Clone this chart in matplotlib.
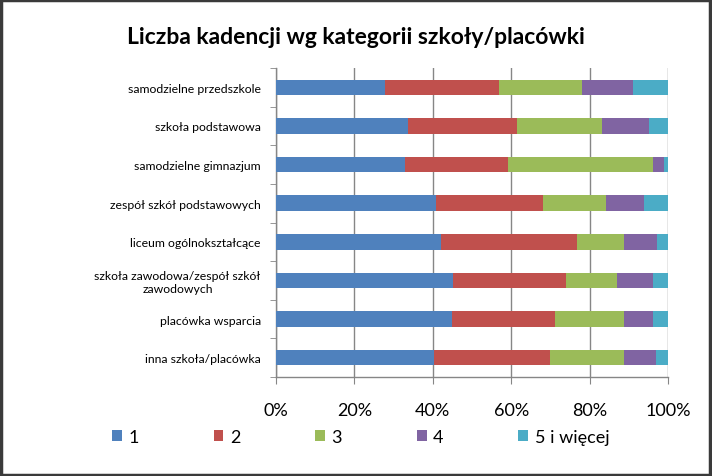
import matplotlib
matplotlib.use("Agg")
import matplotlib.pyplot as plt
from matplotlib.patches import Rectangle
import numpy as np

plt.rcParams['font.family'] = ['Lato', 'DejaVu Sans']

categories = [
    "samodzielne przedszkole",
    "szkoła podstawowa",
    "samodzielne gimnazjum",
    "zespół szkół podstawowych",
    "liceum ogólnokształcące",
    "szkoła zawodowa/zespół szkół\nzawodowych",
    "placówka wsparcia",
    "inna szkoła/placówka",
]
series_names = ["1", "2", "3", "4", "5 i więcej"]
s1 = [27.9, 33.7, 32.8, 40.9, 42.0, 45.1, 45.0, 40.4]
s2 = [29.1, 27.7, 26.5, 27.1, 34.9, 28.8, 26.1, 29.4]
s3 = [21.0, 21.7, 36.8, 16.1, 12.0, 13.1, 17.8, 19.1]
s4 = [13.0, 12.0, 2.8, 9.9, 8.2, 9.1, 7.2, 8.0]
s5 = [9.0, 4.9, 1.1, 6.0, 2.9, 3.9, 3.9, 3.1]
x_ticks = [0, 20, 40, 60, 80, 100]
x_tick_labels = ["0%", "20%", "40%", "60%", "80%", "100%"]

colors = ["#4F81BD", "#C0504D", "#9BBB59", "#8064A2", "#4BACC6"]

fig = plt.figure(figsize=(7.12, 4.77), dpi=100)
ax = fig.add_axes([276/712, 1-378/477, (668-276)/712, (378-69)/477])

series = [s1, s2, s3, s4, s5]
data = np.array(series, dtype=float)
data = data / data.sum(axis=0) * 100
y = np.arange(len(categories))
left = np.zeros(len(categories))
for vals, name, c in zip(data, series_names, colors):
    ax.barh(y, vals, left=left, height=0.4, color=c, label=name, zorder=3)
    left += vals

ax.set_xlim(0, 100)
ax.set_ylim(len(categories) - 0.5, -0.5)
ax.set_xticks(x_ticks)
ax.set_xticklabels(x_tick_labels, fontsize=13)
ax.set_yticks(y)
ax.set_yticklabels(categories, fontsize=8.8, ha='right', multialignment='center')
ax.set_yticks(np.arange(len(categories) + 1) - 0.5, minor=True)

grid_c = "#868686"
ax.grid(axis='x', color=grid_c, linewidth=1, zorder=0)
for side in ['top', 'right']:
    ax.spines[side].set_visible(False)
for side in ['left', 'bottom']:
    ax.spines[side].set_color(grid_c)
    ax.spines[side].set_linewidth(1)
ax.tick_params(axis='x', which='major', length=5, color=grid_c, pad=13)
ax.tick_params(axis='y', which='major', length=0, pad=11)
ax.tick_params(axis='y', which='minor', length=4, color=grid_c)

fig.text(356/712, 1-37/477, "Liczba kadencji wg kategorii szkoły/placówki",
         ha='center', va='center', fontsize=16.5, fontweight='bold')

handles, labels = ax.get_legend_handles_labels()
fig.legend(handles, labels, loc='center left', bbox_to_anchor=(112/712, 1-438/477),
           ncol=5, frameon=False, fontsize=13, handlelength=0.55, handleheight=0.5,
           handletextpad=0.35, columnspacing=4.15, borderaxespad=0, borderpad=0)

fig.patches.append(Rectangle((0.002, 0.003), 0.995, 0.994, transform=fig.transFigure,
                             fill=False, edgecolor="#3a3a3a", linewidth=2.5))

fig.savefig("out.png", dpi=100)
